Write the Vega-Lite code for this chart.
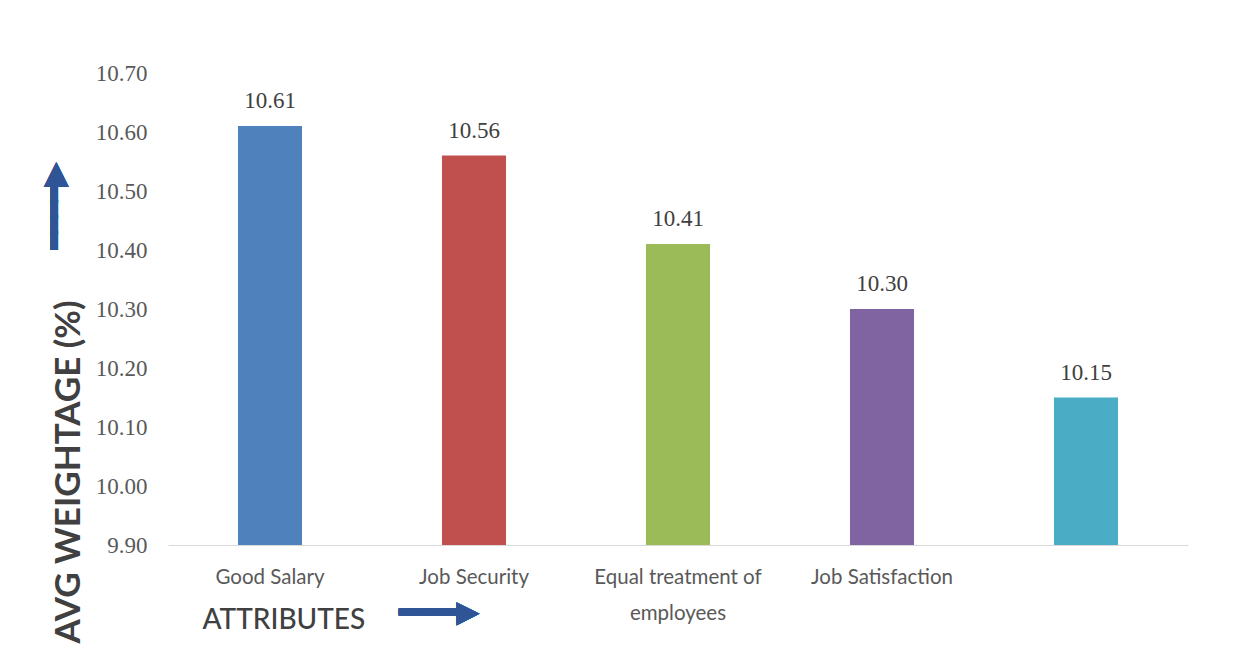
{
  "$schema": "https://vega.github.io/schema/vega-lite/v6.json",
  "width": 1020,
  "height": 472,
  "autosize": "none",
  "padding": {"left": 168, "top": 73, "right": 54, "bottom": 105},
  "background": "#ffffff",
  "config": {"view": {"stroke": null}, "font": "Lato"},
  "data": {"values": [
    {"attribute": "Good Salary", "weight": 10.61},
    {"attribute": "Job Security", "weight": 10.56},
    {"attribute": "Equal treatment of employees", "weight": 10.41},
    {"attribute": "Job Satisfaction", "weight": 10.30},
    {"attribute": " ", "weight": 10.15}
  ]},
  "layer": [
    {
      "mark": {"type": "bar"},
      "encoding": {
        "x": {
          "field": "attribute", "type": "nominal", "sort": null,
          "scale": {"paddingInner": 0.686, "paddingOuter": 0.343},
          "axis": {
            "title": "ATTRIBUTES",
            "titleFont": "Lato", "titleFontSize": 28, "titleFontWeight": 500, "titleColor": "#404040",
            "titleX": 34, "titleY": 83, "titleAlign": "left", "titleBaseline": "alphabetic", "titleAnchor": null,
            "labelAngle": 0, "labelFont": "Lato", "labelFontSize": 20.5, "labelColor": "#595959",
            "labelPadding": 22, "labelLineHeight": 36, "labelBaseline": "top",
            "labelExpr": "datum.label == 'Equal treatment of employees' ? ['Equal treatment of', 'employees'] : datum.label",
            "ticks": false, "tickSize": 0,
            "domainColor": "#D9D9D9", "domainWidth": 1.2, "grid": false
          }
        },
        "y": {
          "field": "weight", "type": "quantitative",
          "scale": {"domain": [9.9, 10.7], "zero": false, "nice": false},
          "axis": {
            "title": "AVG WEIGHTAGE (%)",
            "titleFont": "Lato", "titleFontSize": 35, "titleFontWeight": "bold", "titleColor": "#404040",
            "titleAngle": -90, "titleAlign": "left", "titleBaseline": "alphabetic", "titleAnchor": null,
            "titleX": -89, "titleY": 570,
            "values": [9.9, 10.0, 10.1, 10.2, 10.3, 10.4, 10.5, 10.6, 10.7],
            "format": ".2f",
            "labelFont": "Liberation Serif", "labelFontSize": 23, "labelColor": "#595959",
            "labelPadding": 21, "ticks": false, "tickSize": 0, "domain": false, "grid": false
          }
        },
        "y2": {"datum": 9.9},
        "color": {
          "field": "attribute", "type": "nominal", "legend": null,
          "scale": {
            "domain": ["Good Salary", "Job Security", "Equal treatment of employees", "Job Satisfaction", " "],
            "range": ["#4F81BD", "#C0504D", "#9BBB59", "#8064A2", "#4BACC6"]
          }
        }
      }
    },
    {
      "mark": {"type": "text", "baseline": "alphabetic", "dy": -18, "font": "Liberation Serif", "fontSize": 23, "color": "#404040"},
      "encoding": {
        "x": {"field": "attribute", "type": "nominal", "sort": null},
        "y": {"field": "weight", "type": "quantitative"},
        "text": {"field": "weight", "type": "quantitative", "format": ".2f"}
      }
    },
    {
      "mark": {"type": "text", "text": "━━━━▶", "font": "DejaVu Sans", "fontSize": 24, "color": "#2F5597", "stroke": "#2F5597", "strokeWidth": 3, "strokeJoin": "miter", "align": "center", "baseline": "middle", "clip": false},
      "encoding": {
        "x": {"datum": "Job Security", "type": "nominal", "bandPosition": -0.06},
        "y": {"datum": 9.785, "type": "quantitative"}
      }
    },
    {
      "mark": {"type": "text", "text": "━━━━▶", "font": "DejaVu Sans", "fontSize": 26, "color": "#2F5597", "stroke": "#2F5597", "strokeWidth": 3, "strokeJoin": "miter", "align": "center", "baseline": "middle", "angle": -90, "clip": false},
      "encoding": {
        "x": {"datum": "Good Salary", "type": "nominal", "bandPosition": -2.86},
        "y": {"datum": 10.473, "type": "quantitative"}
      }
    }
  ]
}
